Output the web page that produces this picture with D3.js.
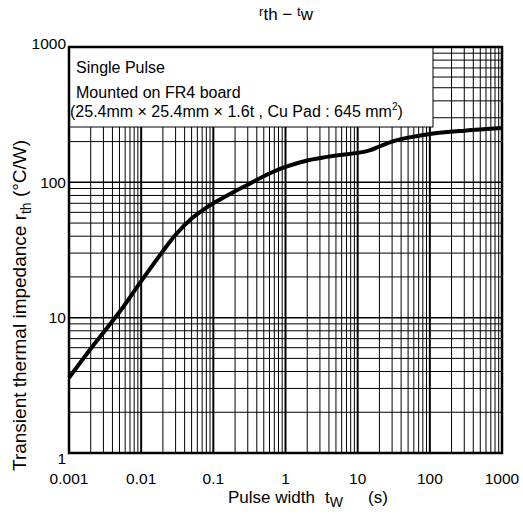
<!DOCTYPE html>
<html>
<head>
<meta charset="utf-8">
<script src="https://cdn.jsdelivr.net/npm/d3@7"></script>
<style>
  body { margin: 0; background: #fff; }
  svg text { font-family: "Liberation Sans", Arial, sans-serif; fill: #000; }
</style>
</head>
<body>
<svg id="chart" width="523" height="517"></svg>
<script>
// pulse width (s) and transient thermal impedance (°C/W)
const pulseWidth = [0.001, 0.002, 0.005, 0.01, 0.02, 0.03, 0.05, 0.08, 0.1, 0.2, 0.3, 0.5, 1, 2, 5, 10, 15, 20, 30, 50, 100, 300, 1000];
const rth = [3.6, 5.9, 11.0, 18.6, 31, 41, 54, 65, 70, 86, 96, 111, 130, 145, 158, 165, 173, 184, 200, 214, 228, 241, 252];

const xTicks = [0.001, 0.01, 0.1, 1, 10, 100, 1000];
const xTickLabels = ["0.001", "0.01", "0.1", "1", "10", "100", "1000"];
const yTicks = [1, 10, 100, 1000];
const yTickLabels = ["1", "10", "100", "1000"];

const margin = { top: 47, right: 21, bottom: 64, left: 69 };
const width = 523 - margin.left - margin.right;
const height = 517 - margin.top - margin.bottom;

const svg = d3.select("#chart");
const plot = svg.append("g")
    .attr("transform", `translate(${margin.left},${margin.top})`);

const x = d3.scaleLog().domain([0.001, 1000]).range([0, width]);
const y = d3.scaleLog().domain([1, 1000]).range([height, 0]);

// grid: minor lines 2..9 in every decade, majors a bit heavier
let xMinor = [];
for (let e = -3; e < 3; e++) for (let m = 2; m <= 9; m++) xMinor.push(m * Math.pow(10, e));
let yMinor = [];
for (let e = 0; e < 3; e++) for (let m = 2; m <= 9; m++) yMinor.push(m * Math.pow(10, e));

plot.append("g").selectAll("line")
    .data(xMinor)
    .join("line")
    .attr("x1", d => x(d)).attr("x2", d => x(d))
    .attr("y1", 0).attr("y2", height)
    .attr("stroke", "#000").attr("stroke-width", 1);

plot.append("g").selectAll("line")
    .data(yMinor)
    .join("line")
    .attr("x1", 0).attr("x2", width)
    .attr("y1", d => y(d)).attr("y2", d => y(d))
    .attr("stroke", "#000").attr("stroke-width", 1);

plot.append("g").selectAll("line")
    .data(xTicks)
    .join("line")
    .attr("x1", d => x(d)).attr("x2", d => x(d))
    .attr("y1", 0).attr("y2", height)
    .attr("stroke", "#000").attr("stroke-width", 2);

plot.append("g").selectAll("line")
    .data(yTicks)
    .join("line")
    .attr("x1", 0).attr("x2", width)
    .attr("y1", d => y(d)).attr("y2", d => y(d))
    .attr("stroke", "#000").attr("stroke-width", 1.5);

// the curve
const line = d3.line()
    .x(d => x(d[0]))
    .y(d => y(d[1]))
    .curve(d3.curveCatmullRom.alpha(0.5));

plot.append("path")
    .datum(pulseWidth.map((t, i) => [t, rth[i]]))
    .attr("d", line)
    .attr("fill", "none")
    .attr("stroke", "#000")
    .attr("stroke-width", 4)
    .attr("stroke-linejoin", "round");

// note box over the top-left corner
const boxW = 364, boxH = 80;
plot.append("rect")
    .attr("x", 0).attr("y", 0)
    .attr("width", boxW).attr("height", boxH)
    .attr("fill", "#fff").attr("stroke", "#000").attr("stroke-width", 1);

plot.append("text").attr("x", 7).attr("y", 26)
    .style("font-size", "16px").text("Single Pulse");
plot.append("text").attr("x", 7).attr("y", 51)
    .style("font-size", "16px").text("Mounted on FR4 board");
const note = plot.append("text").attr("x", 1).attr("y", 70)
    .style("font-size", "16px");
note.append("tspan").text("(25.4mm × 25.4mm × 1.6t , Cu Pad : 645 mm");
note.append("tspan").attr("dy", -7).style("font-size", "10px").text("2");
note.append("tspan").attr("dy", 7).text(")");

// frame
plot.append("rect")
    .attr("width", width).attr("height", height)
    .attr("fill", "none").attr("stroke", "#000").attr("stroke-width", 2.5);

// tick labels
plot.append("g").selectAll("text")
    .data(xTicks)
    .join("text")
    .attr("x", d => x(d))
    .attr("y", height + 31)
    .attr("text-anchor", "middle")
    .style("font-size", "15.5px")
    .text((d, i) => xTickLabels[i]);

const yShift = [6, 0, 0, -3];
plot.append("g").selectAll("text")
    .data(yTicks)
    .join("text")
    .attr("x", -3)
    .attr("y", (d, i) => y(d) + yShift[i])
    .attr("dy", "0.35em")
    .attr("text-anchor", "end")
    .style("font-size", "15.5px")
    .text((d, i) => yTickLabels[i]);

// axis titles
const xl = svg.append("g").style("font-size", "17px");
xl.append("text").attr("x", 228).attr("y", 503).text("Pulse width");
const tw = xl.append("text").attr("x", 325).attr("y", 503);
tw.append("tspan").text("t");
tw.append("tspan").attr("dy", 4).style("font-size", "14px").text("W");
xl.append("text").attr("x", 368).attr("y", 503).text("(s)");

const yl = svg.append("text")
    .attr("transform", "translate(26,471) rotate(-90)")
    .attr("text-anchor", "start")
    .style("font-size", "19px");
yl.append("tspan").text("Transient thermal impedance r");
yl.append("tspan").attr("dy", 5).style("font-size", "14px").text("th");
yl.append("tspan").attr("dy", -5).text(" (°C/W)");

const title = svg.append("text")
    .attr("x", 286).attr("y", 20)
    .attr("text-anchor", "middle")
    .style("font-size", "17px");
title.append("tspan").attr("dy", -4).style("font-size", "13px").text("r");
title.append("tspan").attr("dy", 4).text("th");
title.append("tspan").text(" \u2212 ");
title.append("tspan").attr("dy", -4).style("font-size", "13px").text("t");
title.append("tspan").attr("dy", 4).text("w");
</script>
</body>
</html>
